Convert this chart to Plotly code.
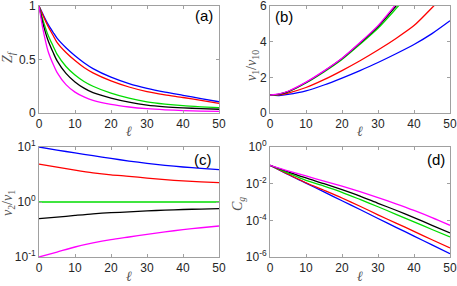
import plotly.graph_objects as go

# ---- data ----
ell_a = [0, 1, 2.5, 4, 5, 7.5, 10, 12.5, 15, 20, 25, 30, 35, 40, 45, 50]
za_blue = [1.0, 0.93, 0.83, 0.75, 0.70, 0.61, 0.535, 0.47, 0.415, 0.335, 0.275, 0.23, 0.195, 0.165, 0.135, 0.105]
za_red = [1.0, 0.92, 0.81, 0.72, 0.66, 0.565, 0.49, 0.425, 0.375, 0.30, 0.243, 0.2, 0.17, 0.145, 0.117, 0.09]
za_green = [1.0, 0.88, 0.73, 0.62, 0.55, 0.435, 0.355, 0.295, 0.25, 0.185, 0.138, 0.104, 0.083, 0.068, 0.058, 0.05]
za_black = [1.0, 0.85, 0.68, 0.56, 0.49, 0.37, 0.29, 0.232, 0.19, 0.14, 0.102, 0.074, 0.058, 0.048, 0.041, 0.035]
za_magenta = [1.0, 0.80, 0.58, 0.45, 0.38, 0.265, 0.195, 0.15, 0.118, 0.08, 0.056, 0.04, 0.03, 0.023, 0.018, 0.015]

ell_b = [0, 2.5, 5, 10, 15, 20, 25, 30, 35, 40, 45, 50]
vb_blue = [1.0, 0.98, 1.04, 1.24, 1.57, 1.96, 2.38, 2.83, 3.32, 3.84, 4.45, 5.17]
vb_red = [1.0, 1.02, 1.12, 1.43, 1.87, 2.38, 2.93, 3.53, 4.18, 4.9, 5.9, 7.0]
vb_green = [1.0, 1.05, 1.18, 1.68, 2.3, 3.0, 3.85, 4.75, 5.85, 7.0, 8.2, 9.5]
vb_black = [1.0, 1.06, 1.2, 1.71, 2.34, 3.05, 3.92, 4.85, 6.0, 7.2, 8.4, 9.7]
vb_magenta = [1.0, 1.07, 1.22, 1.73, 2.36, 3.07, 3.95, 4.9, 6.1, 7.3, 8.5, 9.8]

ell_c = [0, 5, 10, 15, 20, 25, 30, 35, 40, 45, 50]
vc_blue = [10.0, 8.8, 7.8, 6.95, 6.2, 5.56, 5.05, 4.65, 4.33, 4.08, 3.87]
vc_red = [4.9, 4.3, 3.8, 3.4, 3.12, 2.93, 2.72, 2.55, 2.42, 2.32, 2.25]
vc_green = [1.0, 1.0, 1.0, 1.0, 1.0, 1.0, 1.0, 1.0, 1.0, 1.0, 1.0]
vc_black = [0.5, 0.53, 0.57, 0.61, 0.64, 0.66, 0.69, 0.71, 0.73, 0.745, 0.757]
vc_magenta = [0.1, 0.123, 0.152, 0.18, 0.207, 0.231, 0.258, 0.286, 0.314, 0.34, 0.366]

ell_d = [0, 5, 10, 15, 20, 25, 30, 35, 40, 45, 50]
cd_blue = [1e-1, 10**-1.5, 10**-1.97, 10**-2.45, 10**-2.93, 10**-3.41, 10**-3.9, 10**-4.38, 10**-4.86, 10**-5.34, 10**-5.82]
cd_red = [1e-1, 10**-1.48, 10**-1.95, 10**-2.36, 10**-2.78, 10**-3.23, 10**-3.7, 10**-4.15, 10**-4.6, 10**-5.06, 10**-5.51]
cd_green = [1e-1, 10**-1.42, 10**-1.82, 10**-2.13, 10**-2.47, 10**-2.86, 10**-3.26, 10**-3.67, 10**-4.08, 10**-4.5, 10**-4.91]
cd_black = [1e-1, 10**-1.35, 10**-1.69, 10**-2.0, 10**-2.33, 10**-2.68, 10**-3.07, 10**-3.45, 10**-3.85, 10**-4.27, 10**-4.69]
cd_magenta = [1e-1, 10**-1.3, 10**-1.58, 10**-1.86, 10**-2.14, 10**-2.44, 10**-2.76, 10**-3.1, 10**-3.46, 10**-3.85, 10**-4.27]

x_ticks = [0, 10, 20, 30, 40, 50]

colors = ["#0000ff", "#ff0000", "#00dd00", "#000000", "#ff00ff"]
names = ["blue", "red", "green", "black", "magenta"]

fig = go.Figure()

def add(xs, ys_list, xa, ya):
    for ys, c, n in zip(ys_list, colors, names):
        fig.add_trace(go.Scatter(x=xs, y=ys, mode="lines", name=n, xaxis=xa, yaxis=ya,
                                 line=dict(color=c, width=1.3, shape="spline", smoothing=0.7),
                                 showlegend=False, cliponaxis=True))

add(ell_a, [za_blue, za_red, za_green, za_black, za_magenta], "x", "y")
add(ell_b, [vb_blue, vb_red, vb_green, vb_black, vb_magenta], "x2", "y2")
add(ell_c, [vc_blue, vc_red, vc_green, vc_black, vc_magenta], "x3", "y3")
add(ell_d, [cd_blue, cd_red, cd_green, cd_black, cd_magenta], "x4", "y4")

W, H = 457, 286
L = [39 / W, 219 / W]
R = [270 / W, 450 / W]
T = [(H - 113) / H, (H - 6) / H]
B = [(H - 257) / H, (H - 147) / H]

tickfont = dict(family="Liberation Sans, Arial", size=12, color="#262626")
titlefont = dict(family="Liberation Serif, DejaVu Serif", size=14, color="#555555")
axcommon = dict(showline=True, mirror="ticks", linecolor="#a0a0a0", linewidth=1,
                ticks="inside", ticklen=3, tickcolor="#a0a0a0", showgrid=False,
                zeroline=False, tickfont=tickfont, automargin=False,
                ticklabeloverflow="allow")

xcommon = dict(axcommon, range=[0, 50], tickvals=x_ticks)

fig.update_layout(
    width=W, height=H, margin=dict(l=0, r=0, t=0, b=0, autoexpand=False),
    paper_bgcolor="white", plot_bgcolor="white",
    xaxis=dict(xcommon, domain=L, anchor="y"),
    yaxis=dict(axcommon, domain=T, anchor="x", range=[0, 1], tickvals=[0, 0.5, 1],
               ticktext=["0", "0.5", "1"]),
    xaxis2=dict(xcommon, domain=R, anchor="y2"),
    yaxis2=dict(axcommon, domain=T, anchor="x2", range=[0, 6], tickvals=[0, 2, 4, 6],
                ticktext=["0", "2", "4", "6"]),
    xaxis3=dict(xcommon, domain=L, anchor="y3"),
    yaxis3=dict(axcommon, domain=B, anchor="x3", type="log", range=[-1, 1],
                tickvals=[0.1, 1, 10], ticktext=["10<sup>-1</sup>", "10<sup>0</sup>", "10<sup>1</sup>"]),
    xaxis4=dict(xcommon, domain=R, anchor="y4"),
    yaxis4=dict(axcommon, domain=B, anchor="x4", type="log", range=[-6, 0],
                tickvals=[1e-6, 1e-4, 1e-2, 1],
                ticktext=["10<sup>-6</sup>", "10<sup>-4</sup>", "10<sup>-2</sup>", "10<sup>0</sup>"]),
)

def px(x, y):
    return x / W, 1 - y / H

def title(text, x, y, angle=0):
    xx, yy = px(x, y)
    fig.add_annotation(text=text, xref="paper", yref="paper", x=xx, y=yy,
                       xanchor="center", yanchor="middle", showarrow=False,
                       font=titlefont, textangle=angle)

title("<i>ℓ</i>", 129, 131)
title("<i>ℓ</i>", 360, 131)
title("<i>ℓ</i>", 129, 276)
title("<i>ℓ</i>", 360, 276)
title("<i>Z<sub>f</sub></i>", 9, 57, -90)
title("<i>v</i><sub>1</sub>/<i>v</i><sub>10</sub>", 252, 66, -90)
title("<i>v</i><sub>2</sub>/<i>v</i><sub>1</sub>", 8, 203, -90)
title("<i>C<sub>g</sub></i>", 238, 204, -90)

labfont = dict(family="Liberation Sans, Arial", size=15, color="#000000")
def lab(text, x, y, anchor):
    xx, yy = px(x, y)
    fig.add_annotation(text=text, xref="paper", yref="paper", x=xx, y=yy,
                       xanchor=anchor, yanchor="top", showarrow=False, font=labfont,
                       borderpad=0)

lab("(a)", 214, 6, "right")
lab("(b)", 274, 7, "left")
lab("(c)", 213, 150, "right")
lab("(d)", 446, 150, "right")

fig.write_html("out.html", config={"displayModeBar": False},
               post_script="document.body.style.margin='0px';document.body.style.overflow='hidden';")
